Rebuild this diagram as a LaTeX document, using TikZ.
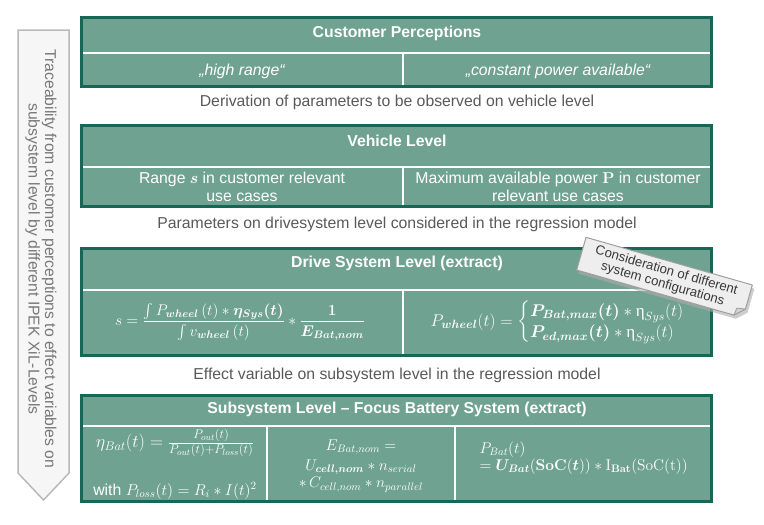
\documentclass[tikz,border=0pt]{standalone}
\usepackage{fix-cm}
\usepackage{amsmath}
\usepackage[no-math]{fontspec}
\setmainfont{Liberation Sans}
\newfontfamily\serifgr{Liberation Serif}
\definecolor{fillg}{RGB}{111,162,145}
\definecolor{darkg}{RGB}{24,102,86}
\definecolor{captg}{RGB}{89,89,89}
\definecolor{sideg}{RGB}{120,120,120}
\definecolor{notefill}{RGB}{238,238,238}
\newcommand{\upeta}{\text{\serifgr η}}
\newcommand{\fsz}[1]{\fontsize{#1}{1.2\dimexpr #1pt\relax}\selectfont}
\tikzset{
  panel/.style={fill=fillg},
  border/.style={draw=darkg, line width=3.5pt},
  divider/.style={draw=white, line width=1.8pt},
  titletext/.style={text=white, font=\fontsize{15.8}{18}\selectfont\bfseries},
  celltext/.style={text=white, font=\fontsize{15.8}{18}\selectfont, align=center},
  captext/.style={text=captg, font=\fontsize{15.8}{18}\selectfont},
}
\begin{document}
\begin{tikzpicture}[x=1pt,y=-1pt]
\useasboundingbox (0,0) rectangle (764,525);

% left traceability arrow
\draw[fill=gray!7, draw=gray!55, line width=1.5pt, line join=miter]
  (18,30) -- (69,30) -- (69,473) -- (43.5,500) -- (18,473) -- cycle;
\node[rotate=-90, align=center, text=sideg, font=\fontsize{15.7}{16.5}\selectfont]
  (trace) at (41,259) {Traceability from customer perceptions to effect variables on\\subsystem level by different IPEK XiL-Levels};

% ---------- Box 1
\fill[panel] (81.5,17.5) rectangle (711.5,86.5);
\draw[divider] (81.5,53) -- (711.5,53);
\draw[divider] (403,53) -- (403,86.5);
\draw[border] (81.5,17.5) rectangle (711.5,86.5);
\node[titletext] (t1) at (397,33) {Customer Perceptions};
\node[celltext, font=\fontsize{15.8}{18}\selectfont\itshape] (c11) at (242,71) {„high range“};
\node[celltext, font=\fontsize{15.8}{18}\selectfont\itshape] (c12) at (558,71) {„constant power available“};
\node[captext] (cap1) at (397,102) {Derivation of parameters to be observed on vehicle level};

% ---------- Box 2
\fill[panel] (81.5,125.5) rectangle (711.5,206.5);
\draw[divider] (81.5,167) -- (711.5,167);
\draw[divider] (403,167) -- (403,206.5);
\draw[border] (81.5,125.5) rectangle (711.5,206.5);
\node[titletext] (t2) at (397,141) {Vehicle Level};
\node[celltext] (c21) at (242,187) {Range $\boldsymbol{s}$ in customer relevant\\use cases};
\node[celltext] (c22) at (558,187) {Maximum available power $\mathbf{P}$ in customer\\relevant use cases};
\node[captext] (cap2) at (397,224) {Parameters on drivesystem level considered in the regression model};

% ---------- Box 3
\fill[panel] (81.5,248.5) rectangle (711.5,355.5);
\draw[divider] (81.5,290) -- (711.5,290);
\draw[divider] (403,290) -- (403,355.5);
\draw[border] (81.5,248.5) rectangle (711.5,355.5);
\node[titletext] (t3) at (397,263) {Drive System Level (extract)};
\node[celltext, font=\fsz{15.5}] (c31) at (240,322)
  {$s=\dfrac{\int P_{\boldsymbol{wheel}}\,(t)\ast\boldsymbol{\eta_{Sys}(t)}}{\int v_{\boldsymbol{wheel}}\,(t)}\ast\dfrac{\mathbf{1}}{\boldsymbol{E_{Bat,nom}}}$};
\node[celltext, font=\fsz{17}] (c32) at (566,322)
  {$P_{\boldsymbol{wheel}}(t)=\begin{cases}\boldsymbol{P_{Bat,max}(t)}\ast\upeta_{Sys}(t)\\[-3pt] \boldsymbol{P_{ed,max}(t)}\ast\upeta_{Sys}(t)\end{cases}$};
\node[captext] (cap3) at (397,375) {Effect variable on subsystem level in the regression model};

% ---------- Box 4
\fill[panel] (81.5,395.5) rectangle (711.5,501.5);
\draw[divider] (81.5,426) -- (711.5,426);
\draw[divider] (267,426) -- (267,501.5);
\draw[divider] (455,426) -- (455,501.5);
\draw[border] (81.5,395.5) rectangle (711.5,501.5);
\node[titletext] (t4) at (397,409) {Subsystem Level – Focus Battery System (extract)};
\node[celltext, font=\fsz{18}] (c41) at (175,443)
  {$\eta_{Bat}(t)=\frac{P_{out}(t)}{P_{out}(t)+P_{loss}(t)}$};
\node[celltext] (c42) at (175,491) {with $P_{loss}(t)=R_i\ast I(t)^2$};
\node[celltext, font=\fsz{15.5}, align=center] (c43) at (361,466)
  {$E_{Bat,nom}=$\\[1pt] $U_{\boldsymbol{cell,nom}}\ast n_{serial}$\\[-1pt] $\ast\, C_{cell,nom}\ast n_{parallel}$};
\node[celltext, font=\fsz{15.5}, align=left, anchor=west] (c44) at (476,458)
  {$P_{Bat}(t)$\\[-2pt] $=\boldsymbol{U_{Bat}}(\mathbf{SoC}(\boldsymbol{t}))\ast\mathrm{I}_{\mathbf{Bat}}(\mathrm{SoC(t)})$};

% ---------- note
\begin{scope}[shift={(664.5,277.5)}, rotate=-16]
  \fill[gray!65, opacity=0.6] (-84,-14) -- (89.5,-14) -- (89.5,11) -- (80,20) -- (-84,20) -- cycle;
  \draw[fill=notefill, draw=gray!75, line width=1pt, line join=round]
    (-86.5,-17) -- (86.5,-17) -- (86.5,8) -- (77,17) -- (-86.5,17) -- cycle;
  \draw[fill=gray!35, draw=gray!75, line width=0.8pt, line join=round]
    (86.5,8) -- (78,9.5) -- (77,17) -- cycle;
  \node[rotate=-16, align=center, text=gray!45!black, font=\fontsize{13.2}{14}\selectfont, inner sep=0pt]
    (note) at (0,0) {Consideration of different\\system configurations};
\end{scope}
\end{tikzpicture}
\end{document}
